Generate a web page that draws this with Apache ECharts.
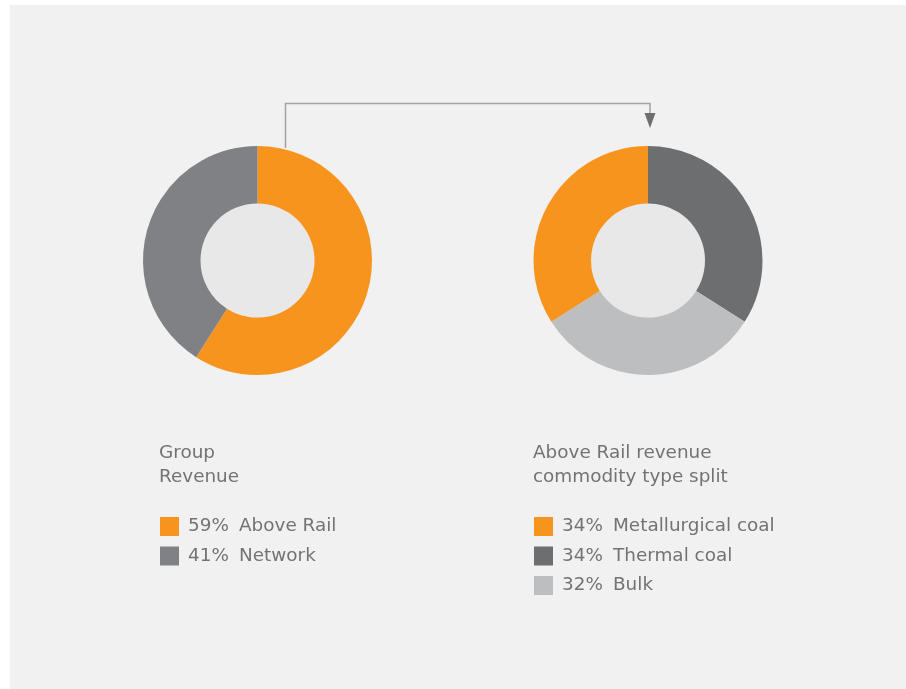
<!DOCTYPE html>
<html>
<head>
<meta charset="utf-8">
<script src="https://cdn.jsdelivr.net/npm/echarts@6/dist/echarts.min.js"></script>
<style>
  html, body { margin: 0; padding: 0; background: #ffffff; }
  #chart { width: 906px; height: 689px; }
</style>
</head>
<body>
<div id="chart"></div>
<script>
// Group revenue split
const groupNames = ['Above Rail', 'Network'];
const groupValues = [59, 41];
const groupColors = ['#f7941d', '#808184'];

// Above Rail revenue by commodity type (drawn clockwise from 12 o'clock)
const commodityNames = ['Thermal coal', 'Bulk', 'Metallurgical coal'];
const commodityValues = [34, 32, 34];
const commodityColors = ['#6d6e70', '#bdbec0', '#f7941d'];

// Legend order as listed under each donut
const groupLegendOrder = ['Above Rail', 'Network'];
const commodityLegendOrder = ['Metallurgical coal', 'Thermal coal', 'Bulk'];

const textColor = '#737376';
const fontFamily = '"DejaVu Sans", "Open Sans", sans-serif';
const fontSize = 18.4;

const leftCenter = [257.5, 260.5];
const rightCenter = [648, 260.5];
const ringRadius = [57, 114.5];

function pctLookup(names, values) {
  const m = {};
  names.forEach((n, i) => { m[n] = values[i]; });
  return m;
}
const groupPct = pctLookup(groupNames, groupValues);
const commodityPct = pctLookup(commodityNames, commodityValues);

function legendRich() {
  return {
    p: { width: 51, padding: [0, 0, 0, 4], fontSize: fontSize, color: textColor, fontFamily: fontFamily },
    n: { fontSize: fontSize, color: textColor, fontFamily: fontFamily }
  };
}

function donut(names, values, colors, center) {
  return {
    type: 'pie',
    silent: true,
    radius: ringRadius,
    center: center,
    startAngle: 90,
    clockwise: true,
    label: { show: false },
    labelLine: { show: false },
    emphasis: { disabled: true },
    itemStyle: { borderWidth: 0 },
    data: names.map((n, i) => ({ name: n, value: values[i], itemStyle: { color: colors[i] } }))
  };
}

function hole(center) {
  return {
    type: 'pie',
    silent: true,
    radius: [0, ringRadius[0]],
    center: center,
    label: { show: false },
    emphasis: { disabled: true },
    legendHoverLink: false,
    data: [{ name: '', value: 1, itemStyle: { color: '#e7e8e7' } }]
  };
}

const chart = echarts.init(document.getElementById('chart'), null, { renderer: 'canvas' });

const titleStyle = { color: textColor, fontSize: fontSize, fontWeight: 'normal', fontFamily: fontFamily, lineHeight: 24 };

chart.setOption({
  backgroundColor: '#ffffff',
  animation: false,
  graphic: [
    { type: 'rect', z: -10, shape: { x: 10, y: 5, width: 896, height: 684 }, style: { fill: '#f1f1f1' } },
    // connector from the group donut to the commodity donut
    { type: 'polyline', z: 10, shape: { points: [[285.5, 148], [285.5, 103.5], [650, 103.5], [650, 114]] },
      style: { stroke: '#a3a3a5', lineWidth: 1.5, fill: null } },
    { type: 'polygon', z: 10, shape: { points: [[644.5, 113], [655.5, 113], [650, 128]] },
      style: { fill: '#6d6e70' } }
  ],
  title: [
    { text: 'Group\nRevenue', left: 159, top: 441, padding: 0, textStyle: titleStyle },
    { text: 'Above Rail revenue\ncommodity type split', left: 533, top: 441, padding: 0, textStyle: titleStyle }
  ],
  legend: [
    {
      data: groupLegendOrder, orient: 'vertical', left: 160, top: 517,
      icon: 'rect', itemWidth: 19, itemHeight: 19, itemGap: 10.5, padding: 0,
      selectedMode: false,
      formatter: n => '{p|' + groupPct[n] + '%}{n|' + n + '}',
      textStyle: { color: textColor, fontFamily: fontFamily, rich: legendRich() }
    },
    {
      data: commodityLegendOrder, orient: 'vertical', left: 534, top: 517,
      icon: 'rect', itemWidth: 19, itemHeight: 19, itemGap: 10.5, padding: 0,
      selectedMode: false,
      formatter: n => '{p|' + commodityPct[n] + '%}{n|' + n + '}',
      textStyle: { color: textColor, fontFamily: fontFamily, rich: legendRich() }
    }
  ],
  series: [
    hole(leftCenter),
    hole(rightCenter),
    donut(groupNames, groupValues, groupColors, leftCenter),
    donut(commodityNames, commodityValues, commodityColors, rightCenter)
  ]
});
</script>
</body>
</html>
